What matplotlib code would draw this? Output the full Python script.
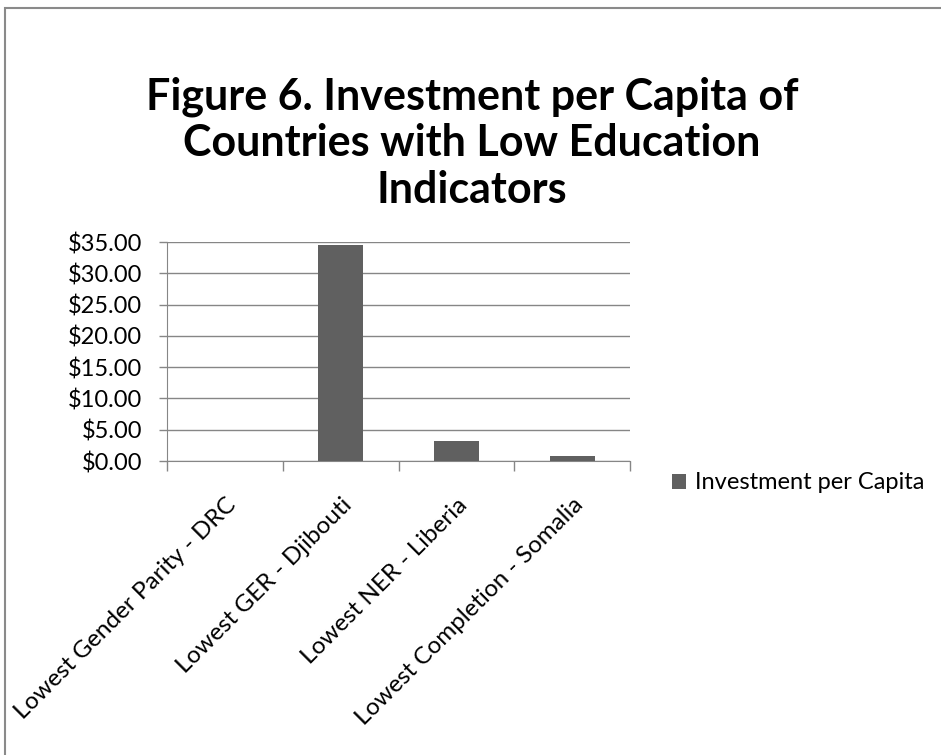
import matplotlib
matplotlib.use("Agg")
import matplotlib.pyplot as plt
from matplotlib.patches import Rectangle
from matplotlib.ticker import FuncFormatter, FixedLocator
import numpy as np

categories = [
    "Lowest Gender Parity - DRC",
    "Lowest GER - Djibouti",
    "Lowest NER - Liberia",
    "Lowest Completion - Somalia",
]
investment = [0.0, 34.5, 3.25, 0.85]
series_name = "Investment per Capita"
title = "Figure 6. Investment per Capita of\nCountries with Low Education\nIndicators"

FONT = ["Lato", "DejaVu Sans"]
BAR = "#606060"
GRID = "#868686"
FS = 17

fig = plt.figure(figsize=(9.41, 7.55), dpi=100)
W, H = 941, 755

# outer chart frame (runs off the right and bottom edges)
fig.patches.append(Rectangle((5 / W, -0.1), 1.2, 1 - 8 / H + 0.1,
                             transform=fig.transFigure, fill=False,
                             edgecolor="#8a8a8a", lw=1.5))

ax = fig.add_axes([167 / W, 1 - 461 / H, (630 - 167) / W, (461 - 242) / H])
x = np.arange(len(categories))
ax.bar(x, investment, width=0.39, color=BAR, zorder=3, label=series_name)

ax.set_xlim(-0.5, len(categories) - 0.5)
ax.set_ylim(0, 35)
ax.set_yticks(np.arange(0, 36, 5))
ax.yaxis.set_major_formatter(FuncFormatter(lambda v, _: f"${v:.2f}"))
ax.grid(axis="y", color=GRID, lw=1, zorder=0)

ax.xaxis.set_major_locator(FixedLocator(x))
ax.xaxis.set_minor_locator(FixedLocator(np.arange(-0.5, len(categories), 1)))
ax.set_xticklabels(categories, rotation=45, ha="right", va="top",
                   rotation_mode="anchor", family=FONT, fontsize=17.5)
ax.tick_params(axis="x", which="major", length=0, pad=24)
ax.tick_params(axis="x", which="minor", length=7, color=GRID, width=1)
ax.tick_params(axis="y", length=6, color=GRID, width=1, labelsize=FS, pad=12)
for lbl in ax.get_yticklabels():
    lbl.set_family(FONT)

for side in ("top", "right"):
    ax.spines[side].set_visible(False)
ax.spines["left"].set_color(GRID)
ax.spines["bottom"].set_color(GRID)

fig.text(472 / W, 1 - 143 / H, title, ha="center", va="center",
         family=FONT, fontweight="bold", fontsize=31, linespacing=1.2)

fig.legend(loc="center left", bbox_to_anchor=(651 / W, 1 - 483 / H),
           frameon=False, prop={"family": FONT, "size": FS},
           handlelength=0.6, handleheight=0.6, handletextpad=0.35)

fig.savefig("out.png", dpi=100)
